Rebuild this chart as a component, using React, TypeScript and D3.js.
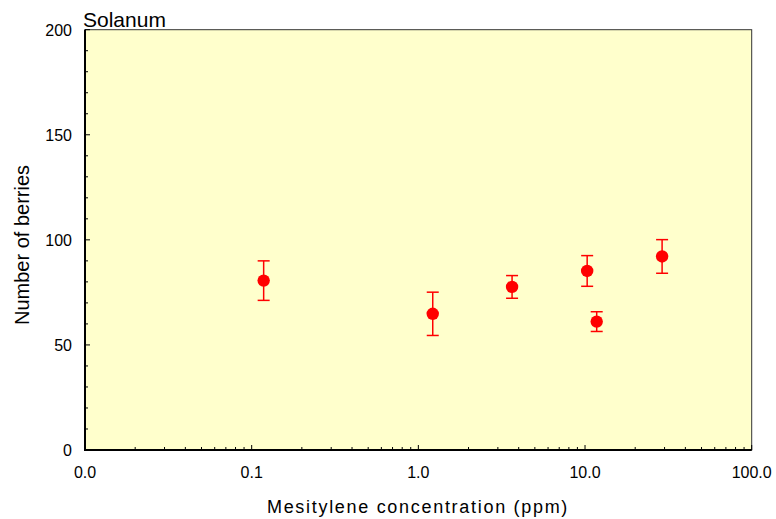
import React from "react";
import * as d3 from "d3";

const concentrations = [0.118, 1.22, 3.65, 10.3, 11.75, 29.0];
const berries = [80.6, 64.8, 77.6, 85.2, 61.1, 92.1];
const errors = [9.4, 10.3, 5.4, 7.3, 4.7, 8.0];
const xTickValues = [0.01, 0.1, 1, 10, 100];
const xTickLabels = ["0.0", "0.1", "1.0", "10.0", "100.0"];
const yTickValues = [0, 50, 100, 150, 200];

const W = 776, H = 519;
const L = 85, R = 751.7, T = 29.7, B = 450;

export default function App() {
  const x = d3.scaleLog().domain([0.01, 100]).range([L, R]);
  const y = d3.scaleLinear().domain([0, 200]).range([B, T]);
  const font = "'Liberation Sans', Arial, sans-serif";

  const minorX: number[] = [];
  for (let d = 0.01; d < 100; d *= 10) {
    for (let k = 2; k <= 9; k++) minorX.push(d * k);
  }
  const minorY = d3.range(0, 201, 10).filter((v) => v % 50 !== 0);

  return (
    <svg width={W} height={H} style={{ position: "absolute", left: 0, top: 0 }}>
      <rect x={L} y={T} width={R - L} height={B - T} fill="#ffffcc" stroke="#333" strokeWidth={1} />
      {minorX.map((v, i) => (
        <line key={"mx" + i} x1={x(v)} x2={x(v)} y1={B} y2={B - 3} stroke="#000" strokeWidth={1} />
      ))}
      {xTickValues.map((v, i) => (
        <line key={"Mx" + i} x1={x(v)} x2={x(v)} y1={B} y2={B - 5} stroke="#000" strokeWidth={1} />
      ))}
      {minorY.map((v, i) => (
        <line key={"my" + i} x1={L} x2={L + 3} y1={y(v)} y2={y(v)} stroke="#000" strokeWidth={1} />
      ))}
      {yTickValues.map((v, i) => (
        <line key={"My" + i} x1={L} x2={L + 5} y1={y(v)} y2={y(v)} stroke="#000" strokeWidth={1} />
      ))}
      <line x1={L} x2={L} y1={T} y2={B + 1} stroke="#000" strokeWidth={2} />
      <line x1={L - 1} x2={R} y1={B} y2={B} stroke="#000" strokeWidth={2} />
      {xTickValues.map((v, i) => (
        <text key={"xl" + i} x={x(v)} y={478} textAnchor="middle" fontFamily={font} fontSize={16} fill="#000">
          {xTickLabels[i]}
        </text>
      ))}
      {yTickValues.map((v, i) => (
        <text key={"yl" + i} x={72} y={y(v) + 6} textAnchor="end" fontFamily={font} fontSize={16} fill="#000">
          {v}
        </text>
      ))}
      {concentrations.map((c, i) => {
        const cx = x(c);
        const y1 = y(berries[i] + errors[i]);
        const y2 = y(berries[i] - errors[i]);
        return (
          <g key={"p" + i}>
            <line x1={cx} x2={cx} y1={y1} y2={y2} stroke="#ff0000" strokeWidth={1.5} />
            <line x1={cx - 6} x2={cx + 6} y1={y1} y2={y1} stroke="#ff0000" strokeWidth={1.5} />
            <line x1={cx - 6} x2={cx + 6} y1={y2} y2={y2} stroke="#ff0000" strokeWidth={1.5} />
            <circle cx={cx} cy={y(berries[i])} r={6.2} fill="#ff0000" />
          </g>
        );
      })}
      <text x={83} y={27} fontFamily={font} fontSize={21} fill="#000">Solanum</text>
      <text x={418} y={513} textAnchor="middle" fontFamily={font} fontSize={18} letterSpacing={1.7} fill="#000">
        Mesitylene concentration (ppm)
      </text>
      <text transform="translate(29,245) rotate(-90)" textAnchor="middle" fontFamily={font} fontSize={20} fill="#000">
        Number of berries
      </text>
    </svg>
  );
}
